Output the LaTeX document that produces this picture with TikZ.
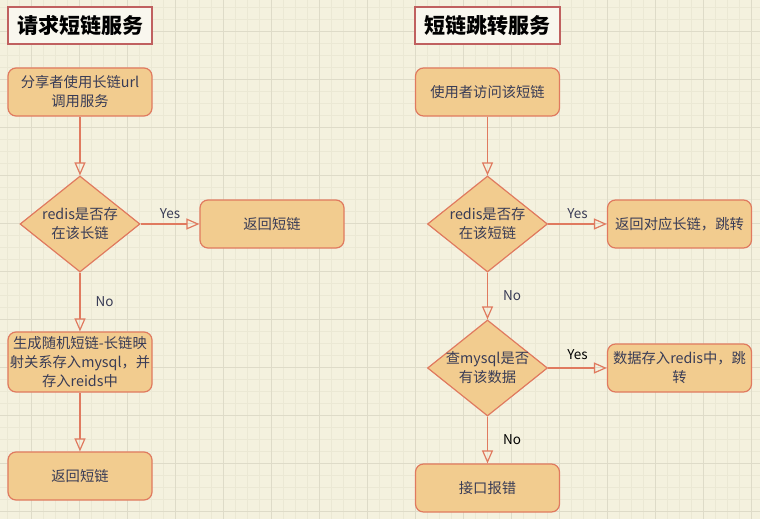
\documentclass[tikz,border=0pt]{standalone}
\usepackage{fontspec}
\setmainfont{Noto Sans CJK SC}
\usetikzlibrary{shapes.geometric,arrows.meta}
\definecolor{bgc}{HTML}{F4F1DE}
\definecolor{minorc}{HTML}{EBE8D4}
\definecolor{majorc}{HTML}{DEDBC8}
\definecolor{fillc}{HTML}{F2CC8F}
\definecolor{strokec}{HTML}{E07A5F}
\definecolor{textc}{HTML}{393C56}
\definecolor{titlec}{HTML}{C0605F}
\definecolor{titlefill}{HTML}{F9F7EE}
\tikzset{
  procbox/.style={draw=strokec, fill=fillc, line width=1.2pt, rounded corners=8pt,
    minimum width=144pt, minimum height=48pt, inner sep=0pt, align=center,
    text=textc, font=\fontsize{14.3}{19}\selectfont},
  decbox/.style={draw=strokec, fill=fillc, line width=1.2pt, diamond, aspect=1.25,
    minimum width=120pt, minimum height=96pt, inner sep=0pt},
  dectext/.style={align=center, text=textc, font=\fontsize{14.3}{19}\selectfont, inner sep=0pt},
  titlebox/.style={draw=titlec, fill=titlefill, line width=1.2pt,
    minimum width=144pt, minimum height=37pt, inner sep=0pt,
    font=\fontsize{21}{24}\selectfont\bfseries, text=black},
  conn/.style={draw=strokec, line width=1.2pt, -{Triangle[open, length=13pt, width=11pt]}},
  elabel/.style={text=textc, font=\fontsize{13.5}{15}\selectfont, inner sep=0pt},
  minorline/.style={draw=minorc, line width=0.9pt},
  majorline/.style={draw=majorc, line width=1pt}
}
\begin{document}
\begin{tikzpicture}[x=1pt,y=-1pt]
\useasboundingbox (0,0) rectangle (760,519);
\fill[bgc] (0,0) rectangle (760,519);
% grid
\foreach \i in {0,...,63} {\draw[minorline] ({7.3+12*\i},0) -- ({7.3+12*\i},519);}
\foreach \j in {0,...,43} {\draw[minorline] (0,{7.3+12*\j}) -- (760,{7.3+12*\j});}
\foreach \i in {0,...,15} {\draw[majorline] ({31.3+48*\i},0) -- ({31.3+48*\i},519);}
\foreach \j in {0,...,10} {\draw[majorline] (0,{31.3+48*\j}) -- (760,{31.3+48*\j});}

% left column
\node[titlebox] (lt) at (80,25.5) {请求短链服务};
\node[procbox] (l1) at (80,92) {分享者使用长链url\\调用服务};
\node[decbox] (ld) at (80,224) {};
\node[dectext] (ldt) at (80,224) {redis是否存\\在该长链};
\node[procbox] (ly) at (272,224) {返回短链};
\node[procbox, minimum height=60pt] (l3) at (80,362) {生成随机短链-长链映\\射关系存入mysql，并\\存入reids中};
\node[procbox] (l4) at (80,476) {返回短链};

\draw[conn] (l1) -- (ld.north);
\draw[conn] (ld.east) -- (ly.west) node[elabel, pos=0.5, above=5pt] {Yes};
\draw[conn] (ld.south) -- (l3.north) node[elabel, pos=0.5, right=15pt] {No};
\draw[conn] (l3) -- (l4);

% right column
\node[titlebox, minimum width=145pt] (rt) at (487.5,25.5) {短链跳转服务};
\node[procbox] (r1) at (487.5,92) {使用者访问该短链};
\node[decbox] (rd1) at (487.5,224) {};
\node[dectext] (rd1t) at (487.5,224) {redis是否存\\在该短链};
\node[procbox] (ry1) at (679.5,224) {返回对应长链，跳转};
\node[decbox] (rd2) at (487.5,368) {};
\node[dectext] (rd2t) at (487.5,368) {查mysql是否\\有该数据};
\node[procbox] (ry2) at (679.5,368) {数据存入redis中，跳\\转};
\node[procbox] (r4) at (487.5,488) {接口报错};

\draw[conn] (r1) -- (rd1.north);
\draw[conn] (rd1.east) -- (ry1.west) node[elabel, pos=0.5, above=5pt] {Yes};
\draw[conn] (rd1.south) -- (rd2.north) node[elabel, pos=0.5, right=15pt] {No};
\draw[conn] (rd2.east) -- (ry2.west) node[elabel, pos=0.5, above=8pt, text=black] {Yes};
\draw[conn] (rd2.south) -- (r4.north) node[elabel, pos=0.5, right=15pt, text=black] {No};
\end{tikzpicture}
\end{document}
